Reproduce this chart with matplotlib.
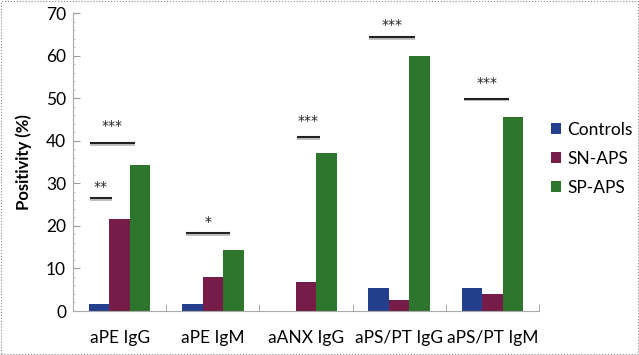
import matplotlib
matplotlib.use("Agg")
import matplotlib.pyplot as plt
import numpy as np
from matplotlib.patches import Rectangle

categories = ["aPE IgG", "aPE IgM", "aANX IgG", "aPS/PT IgG", "aPS/PT IgM"]
controls = [1.7, 1.7, 0.0, 5.4, 5.4]
sn_aps = [21.6, 8.0, 6.7, 2.6, 4.0]
sp_aps = [34.3, 14.3, 37.1, 60.0, 45.6]
series_names = ["Controls", "SN-APS", "SP-APS"]
colors = ["#233f8e", "#761c48", "#2d752d"]

# significance annotations: (category index, x start offset, x end offset, line y, star text, star y)
sig = [
    (0, -0.32, 0.16, 39.5, "***", 43.4),
    (0, -0.32, -0.08, 26.5, "**", 29.2),
    (1, -0.29, 0.18, 18.3, "*", 21.0),
    (2, -0.10, 0.15, 40.8, "***", 44.6),
    (3, -0.32, 0.17, 64.4, "***", 67.2),
    (4, -0.30, 0.18, 49.9, "***", 53.6),
]

plt.rcParams['font.family'] = ['Lato', 'DejaVu Sans']

fig = plt.figure(figsize=(6.39, 3.55), dpi=100)
ax = fig.add_axes([73/639, 44/355, (539-73)/639, (311-13)/355])

x = np.arange(len(categories))
w = 0.22
for i, (vals, name, c) in enumerate(zip([controls, sn_aps, sp_aps], series_names, colors)):
    ax.bar(x + (i - 1) * w, vals, w, color=c, label=name, edgecolor='none')

for ci, x0, x1, ly, txt, sy in sig:
    ax.plot([ci + x0, ci + x1], [ly - 0.45, ly - 0.45], color='#bbbbbb', lw=1.3, solid_capstyle='butt')
    ax.plot([ci + x0, ci + x1], [ly, ly], color='#222222', lw=1.5, solid_capstyle='butt')
    ax.text(ci + (x0 + x1) / 2, sy, txt, ha='center', va='center', fontsize=10,
            family=['DejaVu Sans'], color='#222222')

ax.set_xlim(-0.5, len(categories) - 0.5)
ax.set_ylim(0, 70)
ax.set_yticks(range(0, 71, 10))
ax.set_yticks(np.arange(0, 71, 2), minor=True)
ax.set_xticks(x)
ax.set_xticklabels(categories)
ax.set_xticks(np.arange(-0.5, len(categories), 1.0), minor=True)
ax.tick_params(axis='x', which='major', length=0, pad=14, labelsize=12.5)
ax.tick_params(axis='x', which='minor', length=5, color='#999999', direction='in')
ax.tick_params(axis='y', which='major', length=5, color='#999999', direction='in', labelsize=12.5, pad=5)
ax.tick_params(axis='y', which='minor', length=1.5, color='#bbbbbb', direction='in')
for s in ['top', 'right']:
    ax.spines[s].set_visible(False)
for s in ['left', 'bottom']:
    ax.spines[s].set_color('#aaaaaa')
    ax.spines[s].set_linewidth(0.8)
ax.set_ylabel("Positivity (%)", fontsize=12, fontweight='bold', labelpad=10)

leg = ax.legend(loc='center left', frameon=False,
                fontsize=12.5, handlelength=0.6, handleheight=0.6, handletextpad=0.35, labelspacing=0.75,
                borderaxespad=0, borderpad=0)
leg.set_bbox_to_anchor((551/639, 196/355), transform=fig.transFigure)

fig.patches.append(Rectangle((0.002, 0.003), 0.996, 0.994, transform=fig.transFigure,
                             fill=False, edgecolor='#888888', lw=0.8, linestyle=':'))

fig.savefig("out.png", dpi=100)
